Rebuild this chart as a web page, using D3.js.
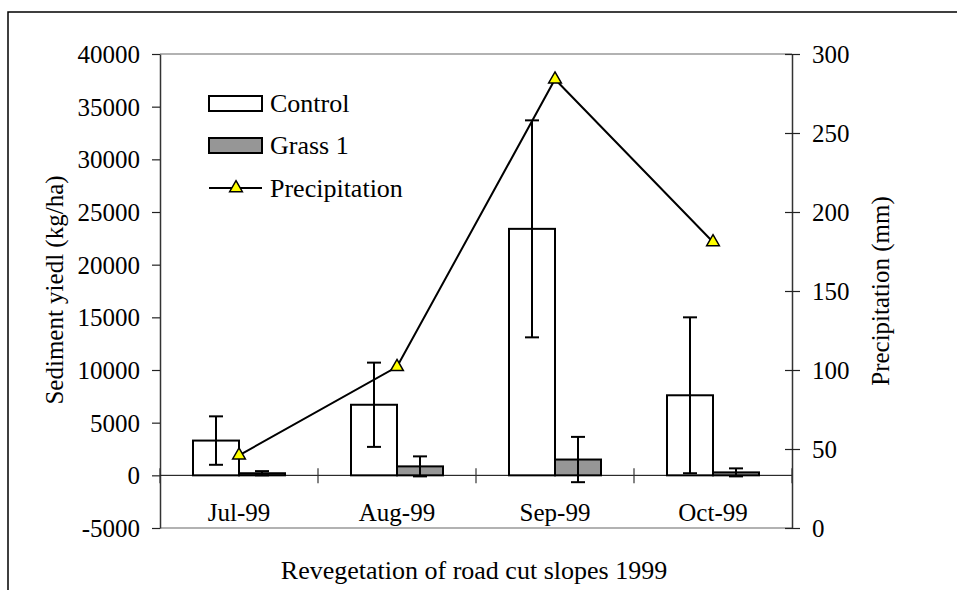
<!DOCTYPE html>
<html>
<head>
<meta charset="utf-8">
<script src="https://cdn.jsdelivr.net/npm/d3@7"></script>
<style>
  html, body { margin: 0; padding: 0; background: #fff; }
  svg { display: block; }
  text { font-family: "Liberation Serif", "Times New Roman", serif; fill: #000; }
</style>
</head>
<body>
<svg id="chart" width="957" height="590"></svg>
<script>
// Monthly sediment yield (kg/ha) with error ranges, and monthly precipitation (mm)
const categories = ["Jul-99", "Aug-99", "Sep-99", "Oct-99"];
const seriesNames = ["Control", "Grass 1"];
const control = [3300, 6700, 23400, 7600];
const controlErr = [2300, 4000, 10300, 7400];
const grass = [200, 850, 1500, 280];
const grassErr = [200, 950, 2150, 380];
const precipitation = [46, 102, 284, 181];
const leftTicks = [-5000, 0, 5000, 10000, 15000, 20000, 25000, 30000, 35000, 40000];
const rightTicks = [0, 50, 100, 150, 200, 250, 300];

const svg = d3.select("#chart");
const FONT = '"Liberation Serif", "Times New Roman", serif';
const FS = 25;

const plot = { left: 160, right: 792, top: 54, bottom: 528 };

const x = d3.scaleBand().domain(categories).range([plot.left, plot.right]).paddingInner(0).paddingOuter(0);
const groupW = 92;
const xSub = d3.scaleBand().domain(seriesNames).range([0, groupW]).padding(0);
const yL = d3.scaleLinear().domain([-5000, 40000]).range([plot.bottom, plot.top]);
const yR = d3.scaleLinear().domain([0, 300]).range([plot.bottom, plot.top]);

// outer frame
svg.append("path")
  .attr("d", "M8,590 L8,12 L957,12")
  .attr("fill", "none").attr("stroke", "#000").attr("stroke-width", 1.5);

// plot area border (top and bottom)
svg.append("line").attr("x1", plot.left).attr("x2", plot.right).attr("y1", plot.top).attr("y2", plot.top)
  .attr("stroke", "#999").attr("stroke-width", 1.5);
svg.append("line").attr("x1", plot.left).attr("x2", plot.right).attr("y1", plot.bottom).attr("y2", plot.bottom)
  .attr("stroke", "#999").attr("stroke-width", 1.5);

// left axis
const gL = svg.append("g").attr("transform", `translate(${plot.left},0)`)
  .call(d3.axisLeft(yL).tickValues(leftTicks).tickSize(8).tickPadding(12).tickSizeOuter(0)
    .tickFormat(d => String(d)));
gL.attr("font-family", FONT).attr("font-size", FS);
gL.select(".domain").attr("stroke", "#333").attr("stroke-width", 1.5);
gL.selectAll(".tick line").attr("stroke", "#222").attr("stroke-width", 1.2);
gL.selectAll("text").attr("dy", "0.34em");

// right axis, ticks cross the axis line
const gR = svg.append("g").attr("transform", `translate(${plot.right},0)`)
  .call(d3.axisRight(yR).tickValues(rightTicks).tickSize(8).tickPadding(12).tickSizeOuter(0)
    .tickFormat(d => String(d)));
gR.attr("font-family", FONT).attr("font-size", FS);
gR.select(".domain").attr("stroke", "#333").attr("stroke-width", 1.5);
gR.selectAll(".tick line").attr("x1", -7).attr("stroke", "#222").attr("stroke-width", 1.2);
gR.selectAll("text").attr("dy", "0.34em");

// zero line with category separators
svg.append("line").attr("x1", plot.left).attr("x2", plot.right).attr("y1", yL(0)).attr("y2", yL(0))
  .attr("stroke", "#000").attr("stroke-width", 1);
const bounds = categories.map(c => x(c)).concat([plot.right]);
svg.selectAll(".sep").data(bounds).join("line")
  .attr("x1", d => d).attr("x2", d => d)
  .attr("y1", yL(0) - 7).attr("y2", yL(0) + 8)
  .attr("stroke", "#333").attr("stroke-width", 1.2);

// category labels
svg.selectAll(".cat").data(categories).join("text")
  .attr("x", d => x(d) + x.bandwidth() / 2).attr("y", 521)
  .attr("text-anchor", "middle").style("font-size", FS + "px").text(d => d);

// bars
const seriesData = [
  { name: "Control", values: control, err: controlErr, fill: "#ffffff" },
  { name: "Grass 1", values: grass, err: grassErr, fill: "#969696" }
];
const off = (x.bandwidth() - groupW) / 2;

seriesData.forEach(s => {
  const g = svg.append("g");
  g.selectAll("rect").data(categories).join("rect")
    .attr("x", (c) => x(c) + off + xSub(s.name))
    .attr("width", xSub.bandwidth())
    .attr("y", (c, i) => yL(Math.max(0, s.values[i])))
    .attr("height", (c, i) => Math.abs(yL(0) - yL(s.values[i])))
    .attr("fill", s.fill).attr("stroke", "#000").attr("stroke-width", 2);
});

// error bars
seriesData.forEach(s => {
  const g = svg.append("g").attr("stroke", "#000").attr("stroke-width", 2);
  categories.forEach((c, i) => {
    const cx = x(c) + off + xSub(s.name) + xSub.bandwidth() / 2;
    const hi = yL(s.values[i] + s.err[i]);
    const lo = yL(s.values[i] - s.err[i]);
    g.append("line").attr("x1", cx).attr("x2", cx).attr("y1", hi).attr("y2", lo);
    g.append("line").attr("x1", cx - 7).attr("x2", cx + 7).attr("y1", hi).attr("y2", hi);
    g.append("line").attr("x1", cx - 7).attr("x2", cx + 7).attr("y1", lo).attr("y2", lo);
  });
});

// precipitation line
const px = c => x(c) + x.bandwidth() / 2;
const line = d3.line().x((d, i) => px(categories[i])).y(d => yR(d));
svg.append("path").datum(precipitation).attr("d", line)
  .attr("fill", "none").attr("stroke", "#000").attr("stroke-width", 2);
const tri = d3.symbol().type(d3.symbolTriangle).size(70);
svg.selectAll(".pt").data(precipitation).join("path")
  .attr("transform", (d, i) => `translate(${px(categories[i])},${yR(d)})`)
  .attr("d", tri).attr("fill", "#ffff00").attr("stroke", "#000").attr("stroke-width", 1.5);

// axis titles
svg.append("text").attr("transform", "translate(63,290) rotate(-90)")
  .attr("text-anchor", "middle").style("font-size", FS + "px").text("Sediment yiedl (kg/ha)");
svg.append("text").attr("transform", "translate(889,291) rotate(-90)")
  .attr("text-anchor", "middle").style("font-size", FS + "px").text("Precipitation (mm)");
svg.append("text").attr("x", 474).attr("y", 579)
  .attr("text-anchor", "middle").style("font-size", "26px").text("Revegetation of road cut slopes 1999");

// legend
const legend = svg.append("g");
const legItems = [
  { label: "Control", type: "rect", fill: "#ffffff", y: 103.5 },
  { label: "Grass 1", type: "rect", fill: "#969696", y: 145.5 },
  { label: "Precipitation", type: "line", y: 188 }
];
legItems.forEach(it => {
  if (it.type === "rect") {
    legend.append("rect").attr("x", 209).attr("y", it.y - 7.5).attr("width", 53).attr("height", 15)
      .attr("fill", it.fill).attr("stroke", "#000").attr("stroke-width", 2);
  } else {
    legend.append("line").attr("x1", 209).attr("x2", 262).attr("y1", it.y).attr("y2", it.y)
      .attr("stroke", "#000").attr("stroke-width", 2);
    legend.append("path").attr("transform", `translate(236,${it.y})`).attr("d", tri)
      .attr("fill", "#ffff00").attr("stroke", "#000").attr("stroke-width", 1.5);
  }
  legend.append("text").attr("x", 270).attr("y", it.y + 8.5).style("font-size", "26px").text(it.label);
});
</script>
</body>
</html>
